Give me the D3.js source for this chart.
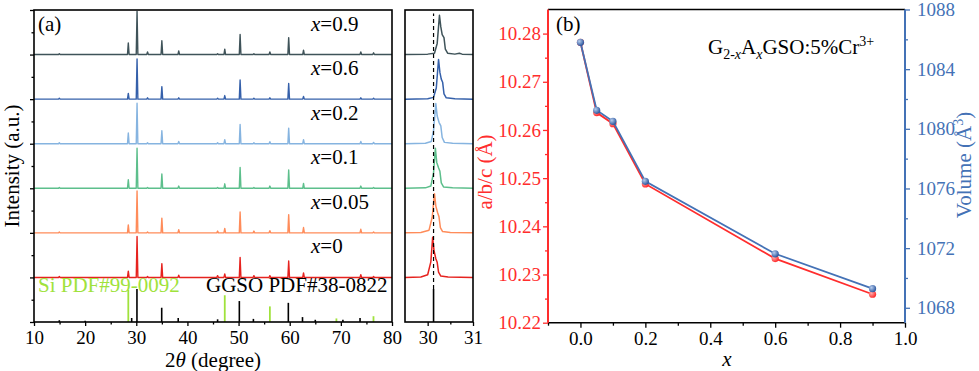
<!DOCTYPE html>
<html>
<head>
<meta charset="utf-8">
<script src="https://cdn.jsdelivr.net/npm/d3@7"></script>
<style>
body{margin:0;background:#fff;}
svg text{font-family:"Liberation Serif","Times New Roman",serif;}
</style>
</head>
<body>
<script>
// ---------- (a) XRD data ----------
var samples = ['0.9','0.6','0.2','0.1','0.05','0'];
var colors  = ['#3f5359','#3560aa','#86b4e0','#5dbf8c','#ff8c5a','#e6231f'];
var peakPos = [14.95,28.44,30.15,32.2,35.0,38.3,45.9,47.3,50.3,53.0,56.12,59.8,62.7,73.9,76.4];
var h09  = [0.02,0.26,0.97,0.06,0.31,0.08,0.02,0.12,0.45,0.02,0.06,0.38,0.10,0.06,0.04];
var h06  = [0.02,0.13,0.90,0.03,0.28,0.03,0.02,0.08,0.43,0.02,0.03,0.35,0.06,0.03,0.02];
var h02  = [0.02,0.24,0.91,0.02,0.29,0.05,0.02,0.09,0.43,0.02,0.045,0.35,0.09,0.05,0.03];
var h01  = [0.02,0.19,0.90,0.02,0.32,0.05,0.02,0.10,0.47,0.02,0.05,0.41,0.11,0.05,0.02];
var h005 = [0.02,0.18,0.94,0.02,0.33,0.07,0.04,0.10,0.47,0.04,0.05,0.41,0.12,0.08,0.02];
var h0   = [0.02,0.14,0.92,0.02,0.31,0.05,0.04,0.08,0.45,0.04,0.04,0.37,0.10,0.06,0.02];
var heights = [h09,h06,h02,h01,h005,h0];

// standard cards
var ggsoPos = [14.95,20.0,29.1,30.13,34.97,38.2,45.9,50.15,52.9,59.73,62.5,65.0,70.4,73.75];
var ggsoInt = [0.04,0.03,0.09,0.74,0.32,0.09,0.06,0.47,0.07,0.43,0.11,0.05,0.05,0.09];
var siPos = [28.44,47.3,56.12,69.13,76.38];
var siInt = [0.72,0.60,0.35,0.08,0.13];

// zoomed (220) peak, 2theta / intensity
var z09  = [[29.5,0],[30.0,0.01],[30.15,0.03],[30.21,0.25],[30.26,0.88],[30.29,0.62],[30.32,0.45],[30.36,0.38],[30.39,0.12],[30.44,0.03],[30.6,0.01],[30.7,0.03],[30.76,0.01],[31,0]];
var z06  = [[29.5,0],[30.0,0.01],[30.13,0.04],[30.19,0.25],[30.24,0.89],[30.27,0.6],[30.3,0.45],[30.33,0.38],[30.36,0.12],[30.41,0.03],[30.6,0.01],[31,0]];
var z02  = [[29.5,0],[29.95,0.01],[30.08,0.05],[30.13,0.3],[30.18,0.9],[30.21,0.62],[30.25,0.48],[30.29,0.4],[30.32,0.14],[30.37,0.03],[30.55,0.01],[31,0]];
var z01  = [[29.5,0],[29.95,0.01],[30.07,0.05],[30.13,0.35],[30.17,0.9],[30.2,0.58],[30.24,0.46],[30.27,0.38],[30.3,0.12],[30.35,0.03],[30.55,0.01],[31,0]];
var z005 = [[29.5,0],[29.85,0.01],[30.03,0.06],[30.1,0.35],[30.15,0.88],[30.18,0.6],[30.22,0.45],[30.25,0.36],[30.28,0.12],[30.33,0.03],[30.5,0.01],[31,0]];
var z0   = [[29.5,0],[29.85,0.01],[30.0,0.06],[30.07,0.35],[30.11,0.9],[30.14,0.6],[30.18,0.42],[30.21,0.34],[30.24,0.12],[30.29,0.03],[30.45,0.01],[31,0]];
var zooms = [z09,z06,z02,z01,z005,z0];

// ---------- (b) lattice data ----------
var xVals = [0,0.05,0.1,0.2,0.6,0.9];
var abc = [10.2782,10.2636,10.2613,10.2488,10.2333,10.2259];
var vol = [1085.8,1081.24,1080.5,1076.48,1071.62,1069.28];

var width = 979, height = 371;
var red = '#ff2d2d', blue = '#4472b6', siGreen = '#a0e23c';
var serif = '"Liberation Serif","Times New Roman",serif';

var svg = d3.select('body').append('svg').attr('width',width).attr('height',height)
	.attr('font-family',serif);
svg.append('rect').attr('width',width).attr('height',height).attr('fill','#fff');

var xA = d3.scaleLinear().domain([10,80]).range([34,392]);
var xI = d3.scaleLinear().domain([29.5,31]).range([405,473]);
var yA = d3.scaleLinear().domain([0,7]).range([322,10]);

var defs = svg.append('defs');
defs.append('clipPath').attr('id','clipI').append('rect')
	.attr('x',405).attr('y',10).attr('width',68).attr('height',312);

function styleAxis(g,color){
	g.attr('font-family',serif);
	g.select('.domain').remove();
	g.selectAll('line').attr('stroke',color).attr('stroke-width',1.3);
	g.selectAll('text').attr('fill',color).attr('font-size','19px');
}

// pattern as line through baseline + each peak
function patternPoints(h,b){
	var pts = [[10,b]];
	peakPos.forEach(function(p,i){
		pts.push([p-0.16,b],[p,b+h[i]],[p+0.16,b]);
	});
	pts.push([80,b]);
	return pts;
}

var lineA = d3.line().x(function(d){return xA(d[0]);}).y(function(d){return yA(d[1]);});
var lineI = d3.line().x(function(d){return xI(d[0]);}).y(function(d){return yA(d[1]);});

// main panel curves
samples.forEach(function(s,i){
	var b = 6 - i;
	svg.append('path').attr('d',lineA(patternPoints(heights[i],b)))
		.attr('fill','none').attr('stroke',colors[i]).attr('stroke-width',1.4)
		.attr('stroke-linejoin','round');
	var t = svg.append('text').attr('x',311).attr('y',yA(b)-24)
		.attr('font-size','21px').attr('fill','#000');
	t.append('tspan').attr('font-style','italic').text('x');
	t.append('tspan').text('=' + s);
});

// reference bars
var gRef = svg.append('g');
ggsoPos.forEach(function(p,i){
	gRef.append('line').attr('x1',xA(p)).attr('x2',xA(p)).attr('y1',yA(0)).attr('y2',yA(ggsoInt[i]))
		.attr('stroke','#000').attr('stroke-width',1.6);
});
siPos.forEach(function(p,i){
	gRef.append('line').attr('x1',xA(p)).attr('x2',xA(p)).attr('y1',yA(0)).attr('y2',yA(siInt[i]))
		.attr('stroke',siGreen).attr('stroke-width',1.8);
});
svg.append('text').attr('x',38).attr('y',292).attr('font-size','21px').attr('fill',siGreen).text('Si PDF#99-0092');
svg.append('text').attr('x',206).attr('y',292).attr('font-size','21px').attr('fill','#000').text('GGSO PDF#38-0822');

// main frame + axes
svg.append('rect').attr('x',34).attr('y',10).attr('width',358).attr('height',312)
	.attr('fill','none').attr('stroke','#000').attr('stroke-width',1.6);
var gx = svg.append('g').attr('transform','translate(0,322)')
	.call(d3.axisBottom(xA).tickValues([10,20,30,40,50,60,70,80]).tickSize(4).tickPadding(5).tickFormat(d3.format('d')));
styleAxis(gx,'#000');
var gxm = svg.append('g').attr('transform','translate(0,322)')
	.call(d3.axisBottom(xA).tickValues([15,25,35,45,55,65,75]).tickSize(2.5).tickFormat(''));
styleAxis(gxm,'#000');
var gy = svg.append('g').attr('transform','translate(34,0)')
	.call(d3.axisLeft(yA).tickValues([0,1,2,3,4,5,6,7]).tickSize(4).tickFormat(''));
styleAxis(gy,'#000');
var gym = svg.append('g').attr('transform','translate(34,0)')
	.call(d3.axisLeft(yA).tickValues([0.5,1.5,2.5,3.5,4.5,5.5,6.5]).tickSize(2.5).tickFormat(''));
styleAxis(gym,'#000');

svg.append('text').attr('x',38).attr('y',31).attr('font-size','21px').text('(a)');
svg.append('text').attr('transform','translate(19,166) rotate(-90)').attr('text-anchor','middle')
	.attr('font-size','21px').text('Intensity (a.u.)');
var xt = svg.append('text').attr('x',213).attr('y',367).attr('text-anchor','middle').attr('font-size','21px');
xt.append('tspan').text('2');
xt.append('tspan').attr('font-style','italic').text('θ');
xt.append('tspan').text(' (degree)');

// inset panel
var gI = svg.append('g').attr('clip-path','url(#clipI)');
zooms.forEach(function(z,i){
	var b = 6 - i;
	var pts = z.map(function(d){return [d[0], b + d[1]];});
	gI.append('path').attr('d',lineI(pts)).attr('fill','none')
		.attr('stroke',colors[i]).attr('stroke-width',1.5).attr('stroke-linejoin','round');
});
ggsoPos.forEach(function(p,i){
	gI.append('line').attr('x1',xI(p)).attr('x2',xI(p)).attr('y1',yA(0)).attr('y2',yA(ggsoInt[i]))
		.attr('stroke','#000').attr('stroke-width',1.6);
});
gI.append('line').attr('x1',xI(30.13)).attr('x2',xI(30.13)).attr('y1',yA(0.74)).attr('y2',yA(6.92))
	.attr('stroke','#000').attr('stroke-width',1.2).attr('stroke-dasharray','4,3');
svg.append('rect').attr('x',405).attr('y',10).attr('width',68).attr('height',312)
	.attr('fill','none').attr('stroke','#000').attr('stroke-width',1.6);
var gxi = svg.append('g').attr('transform','translate(0,322)')
	.call(d3.axisBottom(xI).tickValues([30,31]).tickSize(4).tickPadding(5).tickFormat(d3.format('d')));
styleAxis(gxi,'#000');
var gxim = svg.append('g').attr('transform','translate(0,322)')
	.call(d3.axisBottom(xI).tickValues([30.5]).tickSize(2.5).tickFormat(''));
styleAxis(gxim,'#000');

// ---------- (b) ----------
var xB = d3.scaleLinear().domain([-0.1,1.0]).range([548,905]);
var yL = d3.scaleLinear().domain([10.22,10.285]).range([322.7,9.5]);
var yR = d3.scaleLinear().domain([1067,1088]).range([322.7,9.5]);

function ball(id,c1,c2){
	var g = defs.append('radialGradient').attr('id',id).attr('cx','35%').attr('cy','35%').attr('r','65%');
	g.append('stop').attr('offset','0%').attr('stop-color',c1);
	g.append('stop').attr('offset','100%').attr('stop-color',c2);
}
ball('ballR','#ffb0b0',red);
ball('ballB','#b8cdee','#2f5aa0');

var gbx = svg.append('g').attr('transform','translate(0,322.7)')
	.call(d3.axisBottom(xB).tickValues([0,0.2,0.4,0.6,0.8,1.0]).tickSize(5).tickPadding(4).tickFormat(d3.format('.1f')));
styleAxis(gbx,'#000');
var gbxm = svg.append('g').attr('transform','translate(0,322.7)')
	.call(d3.axisBottom(xB).tickValues([-0.1,0.1,0.3,0.5,0.7,0.9]).tickSize(3).tickFormat(''));
styleAxis(gbxm,'#000');
var gbl = svg.append('g').attr('transform','translate(548,0)')
	.call(d3.axisLeft(yL).tickValues([10.22,10.23,10.24,10.25,10.26,10.27,10.28]).tickSize(5).tickPadding(2).tickFormat(d3.format('.2f')));
styleAxis(gbl,red);
var gblm = svg.append('g').attr('transform','translate(548,0)')
	.call(d3.axisLeft(yL).tickValues([10.225,10.235,10.245,10.255,10.265,10.275]).tickSize(3).tickFormat(''));
styleAxis(gblm,red);
var gbr = svg.append('g').attr('transform','translate(905,0)')
	.call(d3.axisRight(yR).tickValues([1068,1072,1076,1080,1084,1088]).tickSize(5).tickPadding(7).tickFormat(d3.format('d')));
styleAxis(gbr,blue);
var gbrm = svg.append('g').attr('transform','translate(905,0)')
	.call(d3.axisRight(yR).tickValues([1070,1074,1078,1082,1086]).tickSize(3).tickFormat(''));
styleAxis(gbrm,blue);

// spines
svg.append('line').attr('x1',548).attr('x2',905).attr('y1',9.5).attr('y2',9.5).attr('stroke','#000').attr('stroke-width',1.6);
svg.append('line').attr('x1',548).attr('x2',905).attr('y1',322.7).attr('y2',322.7).attr('stroke','#000').attr('stroke-width',1.6);
svg.append('line').attr('x1',548).attr('x2',548).attr('y1',9.5).attr('y2',322.7).attr('stroke',red).attr('stroke-width',2);
svg.append('line').attr('x1',905).attr('x2',905).attr('y1',9.5).attr('y2',322.7).attr('stroke',blue).attr('stroke-width',2);

var lineL = d3.line().x(function(d,i){return xB(xVals[i]);}).y(function(d){return yL(d);});
var lineR = d3.line().x(function(d,i){return xB(xVals[i]);}).y(function(d){return yR(d);});

svg.append('path').attr('d',lineL(abc)).attr('fill','none').attr('stroke',red).attr('stroke-width',1.8);
svg.selectAll('.dotL').data(abc).enter().append('circle').attr('class','dotL')
	.attr('cx',function(d,i){return xB(xVals[i]);}).attr('cy',function(d){return yL(d);})
	.attr('r',3.6).attr('fill','url(#ballR)');
svg.append('path').attr('d',lineR(vol)).attr('fill','none').attr('stroke',blue).attr('stroke-width',1.8);
svg.selectAll('.dotR').data(vol).enter().append('circle').attr('class','dotR')
	.attr('cx',function(d,i){return xB(xVals[i]);}).attr('cy',function(d){return yR(d);})
	.attr('r',3.6).attr('fill','url(#ballB)');

svg.append('text').attr('x',556).attr('y',31).attr('font-size','21px').text('(b)');
var an = svg.append('text').attr('x',708).attr('y',54).attr('font-size','21px');
an.append('tspan').text('G');
an.append('tspan').attr('font-size','14px').attr('dy',5).text('2-');
an.append('tspan').attr('font-size','14px').attr('font-style','italic').text('x');
an.append('tspan').attr('dy',-5).text('A');
an.append('tspan').attr('font-size','14px').attr('font-style','italic').attr('dy',5).text('x');
an.append('tspan').attr('dy',-5).text('GSO:5%Cr');
an.append('tspan').attr('font-size','14px').attr('dy',-8).text('3+');

svg.append('text').attr('x',727).attr('y',366).attr('text-anchor','middle')
	.attr('font-size','21px').attr('font-style','italic').text('x');
svg.append('text').attr('transform','translate(492,172) rotate(-90)').attr('text-anchor','middle')
	.attr('font-size','21px').attr('fill',red).text('a/b/c (Å)');
var vt = svg.append('text').attr('transform','translate(971,165) rotate(-90)').attr('text-anchor','middle')
	.attr('font-size','21px').attr('fill',blue);
vt.append('tspan').text('Volume (Å');
vt.append('tspan').attr('font-size','14px').attr('dy',-8).text('3');
vt.append('tspan').attr('dy',8).text(')');
</script>
</body>
</html>
